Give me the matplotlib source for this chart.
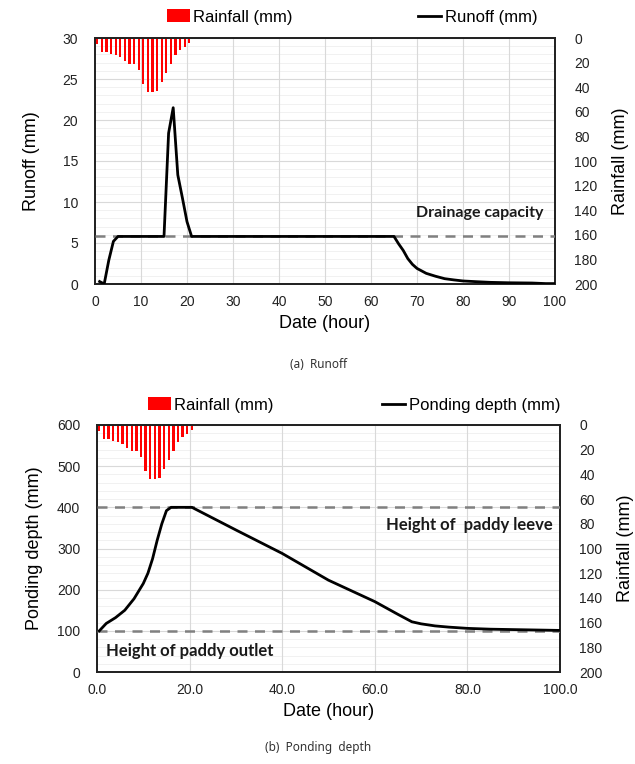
import matplotlib.pyplot as plt
from matplotlib.patches import Patch
from matplotlib.lines import Line2D
from matplotlib.ticker import MultipleLocator, FormatStrFormatter

plt.rcParams['font.family'] = ['Liberation Sans', 'DejaVu Sans']

# hourly rainfall (mm), bars drawn at mid-hour
rain_hour = [0.5, 1.5, 2.5, 3.5, 4.5, 5.5, 6.5, 7.5, 8.5, 9.5, 10.5,
             11.5, 12.5, 13.5, 14.5, 15.5, 16.5, 17.5, 18.5, 19.5, 20.5]
rain_mm = [5, 11, 11, 13, 14, 15.5, 19, 21, 21, 26, 37.5,
           43.5, 44, 43, 35.5, 28.5, 21, 14, 10, 7.5, 4]

# runoff (mm)
runoff_hour = [1, 2, 3, 4, 5, 15, 16, 17, 18, 19, 20, 21, 65, 66, 67, 68,
               69, 70, 72, 74, 76, 78, 80, 83, 86, 90, 95, 98, 100]
runoff_mm = [0.3, 0.0, 2.9, 5.2, 5.8, 5.8, 18.4, 21.5, 13.3, 10.5, 7.6, 5.8,
             5.8, 4.9, 4.1, 3.1, 2.4, 1.9, 1.3, 0.95, 0.65, 0.5, 0.37, 0.28,
             0.2, 0.15, 0.12, 0.05, 0.05]
drainage_capacity = 5.8

# ponding depth (mm)
pond_hour = [0.5, 2, 4, 6, 8, 10, 11, 12, 13, 14, 15, 16, 20.5, 30, 40, 50,
             60, 65, 68, 70, 73, 76, 80, 85, 90, 95, 100]
pond_mm = [100, 118, 132, 150, 178, 215, 240, 275, 320, 360, 392, 400, 400,
           345, 288, 223, 171, 140, 122, 117, 112, 109, 106, 104, 103, 102, 101]
levee_height = 400
outlet_height = 100

W, H = 635, 764
fig = plt.figure(figsize=(W / 100, H / 100), dpi=100)

GRID_MAJ = '#d9d9d9'
GRID_MIN = '#efefef'
DASH = '#808080'
NOTE_FONT = ['Lato', 'DejaVu Sans']


def style_axes(ax, axr):
    for a in (ax, axr):
        for s in a.spines.values():
            s.set_color('#222222')
            s.set_linewidth(1.3)
        a.tick_params(which='both', length=0, labelsize=10, colors='#222222')
    ax.tick_params(axis='y', pad=12)
    ax.tick_params(axis='x', pad=8)
    axr.tick_params(axis='y', pad=14)
    ax.grid(False, which='both')


def rain_axis(ax):
    axr = ax.twinx()
    axr.bar(rain_hour, rain_mm, width=0.5, color='#ff0000', zorder=2)
    axr.set_ylim(200, 0)
    axr.set_xlim(0, 100)
    axr.yaxis.set_major_locator(MultipleLocator(20))
    axr.set_ylabel('Rainfall (mm)', fontsize=13, labelpad=10)
    ax.set_zorder(axr.get_zorder() + 1)
    ax.patch.set_visible(False)
    return axr


# (a) Runoff
ax1 = fig.add_axes([95 / W, 1 - 284 / H, 460 / W, 246 / H])
ax1r = rain_axis(ax1)
ax1.axhline(drainage_capacity, color=DASH, linestyle=(0, (4, 3)), linewidth=1.8, zorder=3)
ax1.plot(runoff_hour, runoff_mm, color='black', linewidth=2, zorder=4)
ax1.set_xlim(0, 100)
ax1.set_ylim(0, 30)
ax1.xaxis.set_major_locator(MultipleLocator(10))
ax1.yaxis.set_major_locator(MultipleLocator(5))
ax1.set_xlabel('Date (hour)', fontsize=13, labelpad=4)
ax1.set_ylabel('Runoff (mm)', fontsize=13, labelpad=16)
ax1.text(97.5, 8.7, 'Drainage capacity', ha='right', va='center',
         fontsize=11.5, fontweight='bold', family=NOTE_FONT, color='#1a1a1a')
style_axes(ax1, ax1r)
# grid drawn on the rainfall axis (behind bars)
for y in range(0, 31):
    ax1r.axhline(y * 200 / 30, color=GRID_MAJ if y % 5 == 0 else GRID_MIN,
                 linewidth=0.8 if y % 5 == 0 else 0.6, zorder=0)
for x in range(10, 100, 10):
    ax1r.axvline(x, color=GRID_MAJ, linewidth=0.8, zorder=0)

handles1 = [Patch(facecolor='#ff0000', label='Rainfall (mm)'),
            Line2D([], [], color='black', linewidth=2, label='Runoff (mm)')]
fig.legend(handles=handles1, loc='center', bbox_to_anchor=(352 / W, 1 - 17 / H),
           ncol=2, frameon=False, fontsize=12, handlelength=1.4,
           handleheight=0.8, handletextpad=0.2, columnspacing=7.5)
fig.text(318 / W, 1 - 365 / H, '(a)  Runoff', ha='center', va='center',
         fontsize=8.5, color='#333333', family=['Noto Sans', 'DejaVu Sans'])

# (b) Ponding depth
ax2 = fig.add_axes([97 / W, 1 - 672 / H, 463 / W, 247 / H])
ax2r = rain_axis(ax2)
ax2.axhline(levee_height, color=DASH, linestyle=(0, (4, 3)), linewidth=1.8, zorder=3)
ax2.axhline(outlet_height, color=DASH, linestyle=(0, (4, 3)), linewidth=1.8, zorder=3)
ax2.plot(pond_hour, pond_mm, color='black', linewidth=2, zorder=4)
ax2.set_xlim(0, 100)
ax2.set_ylim(0, 600)
ax2.xaxis.set_major_locator(MultipleLocator(20))
ax2.xaxis.set_major_formatter(FormatStrFormatter('%.1f'))
ax2.yaxis.set_major_locator(MultipleLocator(100))
ax2.set_xlabel('Date (hour)', fontsize=13, labelpad=4)
ax2.set_ylabel('Ponding depth (mm)', fontsize=13, labelpad=10)
ax2.text(98.5, 357, 'Height of  paddy leeve', ha='right', va='center',
         fontsize=12, fontweight='bold', family=NOTE_FONT, color='#1a1a1a')
ax2.text(2, 51, 'Height of paddy outlet', ha='left', va='center',
         fontsize=12, fontweight='bold', family=NOTE_FONT, color='#1a1a1a')
style_axes(ax2, ax2r)
for y in range(0, 601, 20):
    ax2r.axhline(y * 200 / 600, color=GRID_MAJ if y % 100 == 0 else GRID_MIN,
                 linewidth=0.8 if y % 100 == 0 else 0.6, zorder=0)
for x in range(20, 100, 20):
    ax2r.axvline(x, color=GRID_MAJ, linewidth=0.8, zorder=0)

handles2 = [Patch(facecolor='#ff0000', label='Rainfall (mm)'),
            Line2D([], [], color='black', linewidth=2, label='Ponding depth (mm)')]
fig.legend(handles=handles2, loc='center', bbox_to_anchor=(354 / W, 1 - 405 / H),
           ncol=2, frameon=False, fontsize=12, handlelength=1.4,
           handleheight=0.8, handletextpad=0.2, columnspacing=6.5)
fig.text(318 / W, 1 - 748 / H, '(b)  Ponding  depth', ha='center', va='center',
         fontsize=8.5, color='#333333', family=['Noto Sans', 'DejaVu Sans'])

fig.savefig('out.png', dpi=100, facecolor='white')
